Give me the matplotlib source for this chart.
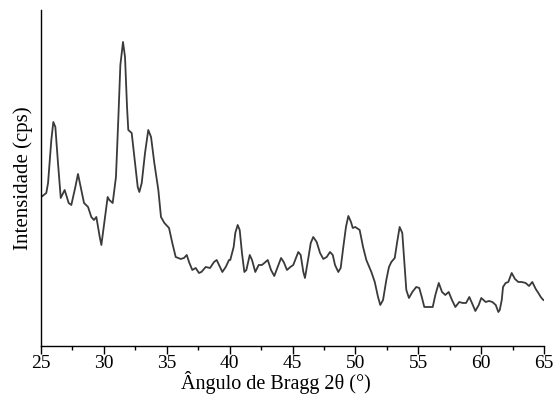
import matplotlib
matplotlib.use("Agg")
import matplotlib.pyplot as plt
from matplotlib.ticker import MultipleLocator

# ==================== Data ====================
# 2-theta in degrees
two_theta = [
    25.02, 25.42, 25.56, 25.82, 25.98, 26.14, 26.35, 26.57, 26.88, 27.20,
    27.41, 27.73, 27.94, 28.20, 28.42, 28.74, 29.00, 29.21, 29.40, 29.67,
    29.80, 30.03, 30.30, 30.43, 30.70, 30.96, 31.15, 31.31, 31.52, 31.68,
    31.84, 31.94, 32.21, 32.42, 32.69, 32.82, 33.01, 33.27, 33.53, 33.75,
    34.01, 34.33, 34.54, 34.81, 35.18, 35.44, 35.71, 36.11, 36.37, 36.59,
    36.77, 37.03, 37.30, 37.56, 37.75, 38.10, 38.44, 38.76, 38.97, 39.16,
    39.42, 39.69, 39.95, 40.05, 40.32, 40.45, 40.64, 40.80, 40.98, 41.17,
    41.33, 41.60, 41.78, 42.04, 42.31, 42.57, 42.76, 43.03, 43.29, 43.55,
    43.82, 44.09, 44.30, 44.56, 44.83, 45.06, 45.46, 45.65, 45.86, 45.99,
    46.26, 46.45, 46.65, 46.92, 47.19, 47.45, 47.72, 47.98, 48.20, 48.38,
    48.64, 48.83, 49.04, 49.25, 49.44, 49.65, 49.79, 49.99, 50.34, 50.61,
    50.87, 51.27, 51.54, 51.80, 51.98, 52.20, 52.46, 52.67, 52.86, 53.13,
    53.31, 53.52, 53.73, 53.92, 54.05, 54.26, 54.53, 54.84, 55.08, 55.30,
    55.48, 55.88, 56.15, 56.36, 56.63, 56.89, 57.15, 57.42, 57.68, 57.95,
    58.26, 58.53, 58.80, 59.06, 59.27, 59.54, 59.81, 60.01, 60.36, 60.63,
    60.89, 61.16, 61.37, 61.48, 61.64, 61.74, 61.95, 62.16, 62.43, 62.69,
    62.96, 63.23, 63.54, 63.81, 64.07, 64.34, 64.55, 64.74, 64.87, 64.95,
]
# intensity (cps, arbitrary units)
intensity = [
    149, 153, 163, 206, 224, 219, 183, 148, 156, 143,
    141, 159, 172, 156, 143, 139, 129, 126, 129, 109,
    101, 123, 149, 146, 143, 169, 228, 281, 304, 289,
    239, 216, 213, 189, 159, 154, 163, 193, 216, 209,
    183, 156, 129, 123, 118, 103, 89, 87, 88, 91,
    84, 76, 78, 73, 74, 79, 78, 84, 86, 81,
    74, 79, 86, 86, 99, 113, 121, 116, 93, 74,
    76, 91, 86, 74, 81, 81, 83, 86, 76, 70,
    79, 88, 84, 76, 79, 81, 94, 91, 74, 68,
    88, 103, 109, 104, 93, 87, 89, 94, 91, 81,
    74, 78, 99, 119, 130, 124, 118, 119, 116, 99,
    86, 74, 64, 49, 41, 46, 66, 79, 84, 88,
    103, 119, 113, 79, 56, 48, 54, 59, 58, 48,
    39, 39, 39, 51, 63, 54, 51, 54, 46, 39,
    44, 43, 43, 49, 43, 35, 41, 48, 44, 45,
    44, 41, 34, 36, 46, 59, 63, 64, 73, 67,
    64, 64, 63, 60, 64, 57, 53, 49, 47, 46,
]

# ==================== Styling ====================
LINE_COLOR = "#3a3a3a"
FONT = "Liberation Serif"

plt.rcParams["font.family"] = [FONT, "DejaVu Serif"]

fig = plt.figure(figsize=(5.55, 3.98), dpi=100)
ax = fig.add_axes([0.0739, 0.1307, 0.9063, 0.8442])

ax.plot(two_theta, intensity, color=LINE_COLOR, linewidth=1.3)

ax.set_xlim(25, 65)
ax.set_ylim(0, 336)

ax.spines["top"].set_visible(False)
ax.spines["right"].set_visible(False)
ax.spines["left"].set_linewidth(1.0)
ax.spines["bottom"].set_linewidth(1.0)

ax.xaxis.set_major_locator(MultipleLocator(5))
ax.xaxis.set_minor_locator(MultipleLocator(2.5))
ax.tick_params(axis="x", which="major", direction="out", length=5.5, width=1.0,
               labelsize=14, pad=1)
ax.tick_params(axis="x", which="minor", direction="out", length=3, width=1.0)
ax.set_yticks([])

ax.set_xlabel("Ângulo de Bragg 2θ (°)", fontsize=14.5, labelpad=0)
ax.xaxis.set_label_coords(0.466, -0.075)
ax.set_ylabel("Intensidade (cps)", fontsize=15, labelpad=6)

fig.savefig("out.png", dpi=100)
